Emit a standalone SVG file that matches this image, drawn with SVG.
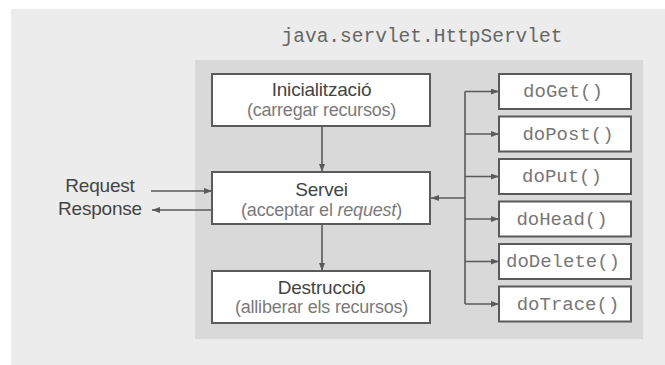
<svg xmlns="http://www.w3.org/2000/svg" width="665" height="365" viewBox="0 0 665 365">
  <style>
    .box { fill: #ffffff; stroke: #5a5a5a; stroke-width: 2; }
    .main { font-family: "Liberation Sans", Arial, sans-serif; font-size: 19px; fill: #444444; text-anchor: middle; letter-spacing: -0.2px; }
    .sub { font-family: "Liberation Sans", Arial, sans-serif; font-size: 18px; fill: #7a7a7a; text-anchor: middle; letter-spacing: -0.2px; }
    .mono { font-family: "Liberation Mono", "Courier New", monospace; font-size: 19px; fill: #777777; text-anchor: middle; }
    .conn { fill: none; stroke: #5a5a5a; stroke-width: 1.6; }
    .label { font-family: "Liberation Sans", Arial, sans-serif; font-size: 19px; fill: #444444; text-anchor: middle; letter-spacing: -0.2px; }
  </style>
  <defs>
    <marker id="arrow" markerUnits="userSpaceOnUse" markerWidth="8" markerHeight="6" refX="8" refY="3" orient="auto">
      <path d="M0,0 L8,3 L0,6 z" fill="#5a5a5a"/>
    </marker>
  </defs>

  <g id="background">
    <rect x="11" y="9" width="654" height="356" fill="#ececec"/>
    <text class="mono" x="422" y="42" style="font-size:19.5px; fill:#666666">java.servlet.HttpServlet</text>
    <rect x="195" y="60" width="448" height="279" fill="#d9d9d9"/>
  </g>

  <g id="connectors">
    <line class="conn" x1="322" y1="126" x2="322" y2="172" marker-end="url(#arrow)"/>
    <line class="conn" x1="322" y1="224" x2="322" y2="271" marker-end="url(#arrow)"/>
    <line class="conn" x1="151" y1="191" x2="212" y2="191" marker-end="url(#arrow)"/>
    <line class="conn" x1="212" y1="210" x2="152" y2="210" marker-end="url(#arrow)"/>
    <line class="conn" x1="465" y1="91.5" x2="465" y2="304"/>
    <line class="conn" x1="465" y1="198" x2="431" y2="198" marker-end="url(#arrow)"/>
    <line class="conn" x1="465" y1="91.5" x2="499" y2="91.5" marker-end="url(#arrow)"/>
    <line class="conn" x1="465" y1="134" x2="499" y2="134" marker-end="url(#arrow)"/>
    <line class="conn" x1="465" y1="176.5" x2="499" y2="176.5" marker-end="url(#arrow)"/>
    <line class="conn" x1="465" y1="219" x2="499" y2="219" marker-end="url(#arrow)"/>
    <line class="conn" x1="465" y1="261.5" x2="499" y2="261.5" marker-end="url(#arrow)"/>
    <line class="conn" x1="465" y1="304" x2="499" y2="304" marker-end="url(#arrow)"/>
  </g>

  <g id="io-labels">
    <text class="label" x="100" y="192">Request</text>
    <text class="label" x="100" y="215">Response</text>
  </g>

  <g id="inicialitzacio">
    <rect class="box" x="212" y="74" width="218" height="52"/>
    <text class="main" x="321.5" y="96">Inicialització</text>
    <text class="sub" x="321.5" y="116">(carregar recursos)</text>
  </g>

  <g id="servei">
    <rect class="box" x="212" y="172" width="218" height="52"/>
    <text class="main" x="321.5" y="196">Servei</text>
    <text class="sub" x="321.5" y="216">(acceptar el <tspan font-style="italic">request</tspan>)</text>
  </g>

  <g id="destruccio">
    <rect class="box" x="212" y="271" width="218" height="52"/>
    <text class="main" x="321.5" y="294">Destrucció</text>
    <text class="sub" x="321.5" y="313">(alliberar els recursos)</text>
  </g>

  <g id="doGet">
    <rect class="box" x="499" y="74" width="132" height="35"/>
    <text class="mono" x="563" y="97">doGet()</text>
  </g>
  <g id="doPost">
    <rect class="box" x="499" y="116.5" width="132" height="35"/>
    <text class="mono" x="568" y="139.5">doPost()</text>
  </g>
  <g id="doPut">
    <rect class="box" x="499" y="159" width="132" height="35"/>
    <text class="mono" x="562" y="182">doPut()</text>
  </g>
  <g id="doHead">
    <rect class="box" x="499" y="201.5" width="132" height="35"/>
    <text class="mono" x="562" y="224.5">doHead()</text>
  </g>
  <g id="doDelete">
    <rect class="box" x="499" y="244" width="132" height="35"/>
    <text class="mono" x="563" y="267">doDelete()</text>
  </g>
  <g id="doTrace">
    <rect class="box" x="499" y="286.5" width="132" height="35"/>
    <text class="mono" x="568" y="309.5">doTrace()</text>
  </g>
</svg>
